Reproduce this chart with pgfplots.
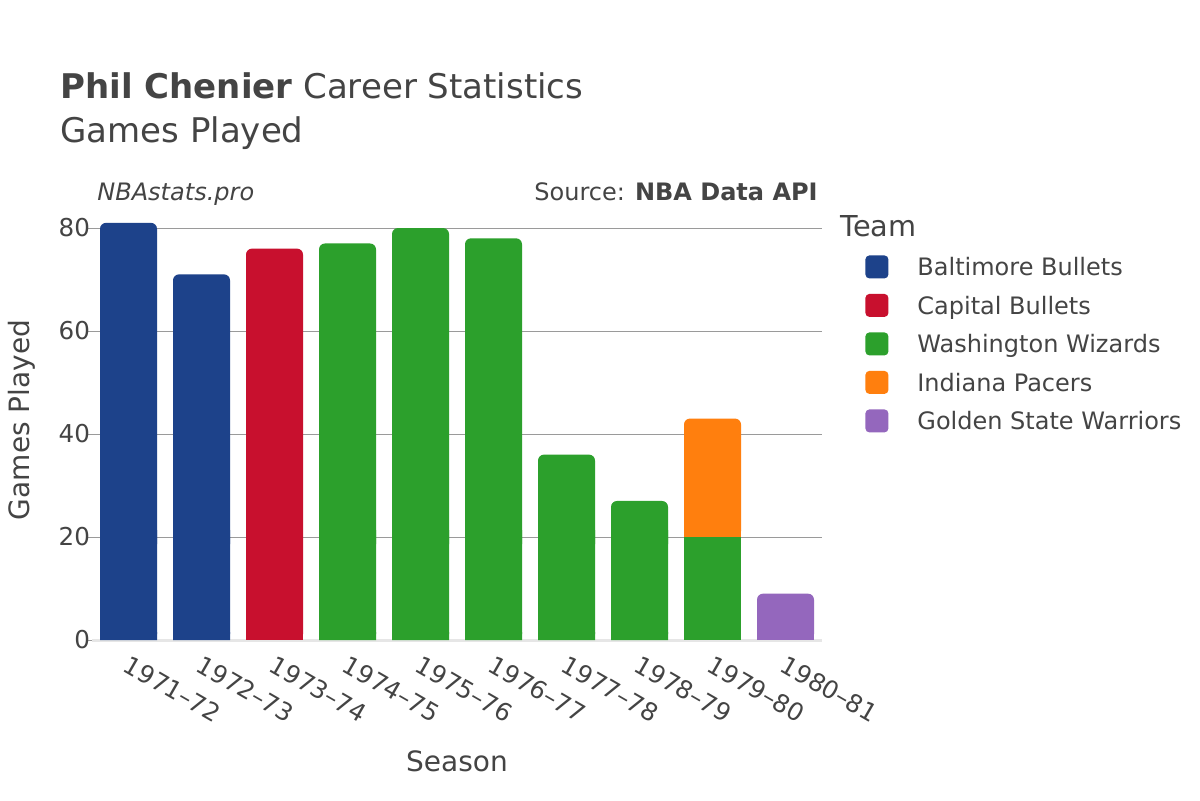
\documentclass[border=0pt]{standalone}
\usepackage{pgfplots}
\usepackage{pgfplotstable}
\pgfplotsset{compat=1.18}
\usepackage{fontspec}
\setmainfont{DejaVu Sans}
\definecolor{txt}{HTML}{444444}
\definecolor{cBal}{HTML}{1D428A}
\definecolor{cCap}{HTML}{C8102E}
\definecolor{cWas}{HTML}{2CA02C}
\definecolor{cInd}{HTML}{FF7F0E}
\definecolor{cGsw}{HTML}{9467BD}
\definecolor{gridc}{HTML}{9A9A9A}
\definecolor{zeroc}{HTML}{E6E6E6}
\pgfplotstableread{
x bal cap was was8 ind gsw
0 81 0 0 0 0 0
1 71 0 0 0 0 0
2 0 76 0 0 0 0
3 0 0 77 0 0 0
4 0 0 80 0 0 0
5 0 0 78 0 0 0
6 0 0 36 0 0 0
7 0 0 27 0 0 0
8 0 0 0 20 23 0
9 0 0 0 0 0 9
}\gpdata
\pgfplotsset{
  geom/.style={
    at={(46pt,80pt)}, anchor=south west,
    scale only axis, width=365pt, height=218.875pt,
    xmin=-0.5, xmax=9.5, ymin=0, ymax=85,
    clip=false,
    ybar stacked, bar width=28.5pt,
  },
}
\begin{document}
\begin{tikzpicture}
\fill[white] (0,0) rectangle (600pt,400pt);
\path[use as bounding box] (0,0) rectangle (600pt,400pt);
\begin{axis}[
  geom,
  axis line style={draw=none},
  xtick={0,...,9},
  xticklabels={1971–72,1972–73,1973–74,1974–75,1975–76,1976–77,1977–78,1978–79,1979–80,1980–81},
  xtick style={draw=none},
  xticklabel style={rotate=-30, anchor=north west, font=\fontsize{12.3}{14}\selectfont, text=txt},
  ytick={0,20,40,60,80},
  ytick pos=left, tick align=outside, major tick length=2.5pt,
  ytick style={draw=gridc, line width=0.5pt},
  yticklabel style={font=\fontsize{12.3}{14}\selectfont, text=txt, xshift=5pt},
  /pgf/number format/assume math mode=true,
  ymajorgrids, grid style={draw=gridc, line width=0.5pt},
  legend style={draw=none, fill=none, at={(axis description cs:1.0589,0.8955)}, anchor=north west,
    font=\fontsize{12}{14}\selectfont, text=txt, row sep=3pt, inner sep=0pt,
    nodes={inner sep=0pt, text height=9.5pt, text depth=2.5pt}},
  legend cell align=left,
  legend image code/.code={\path[fill=none, draw=none] (0pt,-1.25pt) rectangle (26pt,10.25pt); \fill[#1, rounded corners=2pt, overlay] (0pt,-4.75pt) rectangle (11.5pt,6.75pt);},
]
\addplot[fill=cBal, draw=none, rounded corners=3pt] table[x=x, y=bal] {\gpdata};
\addplot[fill=cCap, draw=none, rounded corners=3pt] table[x=x, y=cap] {\gpdata};
\addplot[fill=cWas, draw=none, rounded corners=3pt] table[x=x, y=was] {\gpdata};
\addplot[fill=cWas, draw=none, forget plot] table[x=x, y=was8] {\gpdata};
\addplot[fill=cInd, draw=none, rounded corners=3pt] table[x=x, y=ind] {\gpdata};
\addplot[fill=cGsw, draw=none, rounded corners=3pt] table[x=x, y=gsw] {\gpdata};
\legend{Baltimore Bullets, Capital Bullets, Washington Wizards, Indiana Pacers, Golden State Warriors}
\end{axis}
% square-cornered overlay at the bar bases and at the stacked junction
\begin{scope}
\clip (40pt,77pt) rectangle (420pt,84pt) (40pt,128pt) rectangle (420pt,135pt);
\begin{axis}[geom, hide axis]
\addplot[fill=cBal, draw=none] table[x=x, y=bal] {\gpdata};
\addplot[fill=cCap, draw=none] table[x=x, y=cap] {\gpdata};
\addplot[fill=cWas, draw=none] table[x=x, y=was] {\gpdata};
\addplot[fill=cWas, draw=none] table[x=x, y=was8] {\gpdata};
\addplot[fill=cInd, draw=none] table[x=x, y=ind] {\gpdata};
\addplot[fill=cGsw, draw=none] table[x=x, y=gsw] {\gpdata};
\draw[zeroc, line width=1.5pt] (axis cs:-0.5,0) -- (axis cs:9.5,0);
\end{axis}
\end{scope}
\node[anchor=base west, text=txt, font=\fontsize{17}{20}\selectfont, inner sep=0pt] at (30pt,350.5pt) {\textbf{Phil Chenier} Career Statistics};
\node[anchor=base west, text=txt, font=\fontsize{17}{20}\selectfont, inner sep=0pt] at (30pt,328.5pt) {Games Played};
\node[anchor=base west, text=txt, font=\fontsize{12}{14}\selectfont\itshape, inner sep=0pt] at (48.5pt,300pt) {NBAstats.pro};
\node[anchor=base east, text=txt, font=\fontsize{12}{14}\selectfont, inner sep=0pt] at (409pt,300pt) {Source: \textbf{NBA Data API}};
\node[anchor=base west, text=txt, font=\fontsize{14.4}{17}\selectfont, inner sep=0pt] at (420pt,282pt) {Team};
\node[anchor=base, text=txt, font=\fontsize{14}{17}\selectfont, inner sep=0pt] at (228.5pt,14.5pt) {Season};
\node[anchor=base, rotate=90, text=txt, font=\fontsize{14}{17}\selectfont, inner sep=0pt] at (14.5pt,190pt) {Games Played};
\end{tikzpicture}
\end{document}
